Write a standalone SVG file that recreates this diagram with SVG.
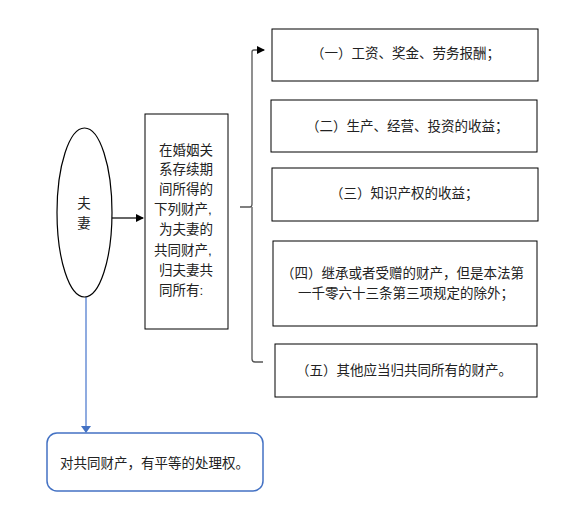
<svg xmlns="http://www.w3.org/2000/svg" width="577" height="532" viewBox="0 0 577 532">
<defs>
<style>
text{font-family:"Liberation Sans","Noto Sans CJK SC",sans-serif;font-size:13.5px;fill:#222}
.box{fill:#fff;stroke:#000;stroke-width:1}
.mid{text-anchor:middle}
</style>
<marker id="ah" markerWidth="8" markerHeight="8" refX="7" refY="4" orient="auto" markerUnits="userSpaceOnUse">
<path d="M0,0 L8,4 L0,8 Z" fill="#000"/>
</marker>
</defs>
<rect width="577" height="532" fill="#fff"/>
<g id="connectors">
<line x1="112" y1="218" x2="143" y2="218" stroke="#000" stroke-width="1.2" marker-end="url(#ah)"/>
<path d="M240,207 H250 Q252,207 252,204 V52 Q252,50 254,50 H264" fill="none" stroke="#555" stroke-width="1.3" marker-end="url(#ah)"/>
<path d="M252,207 V359 Q252,362 255,362 H263" fill="none" stroke="#555" stroke-width="1.3"/>
<line x1="86" y1="297" x2="86" y2="432" stroke="#6a8fd6" stroke-width="1.5"/>
<path d="M81,426 L91,426 L86,433 Z" fill="#4472C4"/>
</g>
<g id="couple">
<ellipse cx="84.5" cy="212.5" rx="27.5" ry="84.5" fill="#fff" stroke="#000" stroke-width="1.2"/>
<text x="84" y="208" class="mid">夫</text>
<text x="84" y="228" class="mid">妻</text>
</g>
<g id="main">
<rect x="145" y="114" width="83" height="215" class="box"/>
<text x="159" y="155">在婚姻关</text>
<text x="159" y="174">系存续期</text>
<text x="159" y="194">间所得的</text>
<text x="154" y="214">下列财产,</text>
<text x="159" y="234">为夫妻的</text>
<text x="154" y="255">共同财产,</text>
<text x="159" y="275">归夫妻共</text>
<text x="159" y="295">同所有:</text>
</g>
<g id="item1">
<rect x="272" y="29" width="266" height="52" class="box"/>
<text x="311" y="58">（一）工资、奖金、劳务报酬；</text>
</g>
<g id="item2">
<rect x="271" y="100" width="266" height="52" class="box"/>
<text x="306" y="131">（二）生产、经营、投资的收益；</text>
</g>
<g id="item3">
<rect x="272" y="168" width="266" height="53" class="box"/>
<text x="330" y="198">（三）知识产权的收益；</text>
</g>
<g id="item4">
<rect x="273" y="241" width="264" height="85" class="box"/>
<text x="281" y="278">（四）继承或者受赠的财产，但是本法第</text>
<text x="298" y="298">一千零六十三条第三项规定的除外；</text>
</g>
<g id="item5">
<rect x="275" y="344" width="262" height="53" class="box"/>
<text x="296" y="375">（五）其他应当归共同所有的财产。</text>
</g>
<g id="result">
<rect x="47" y="433" width="216" height="58" rx="10" fill="#fff" stroke="#4472C4" stroke-width="1.5"/>
<text x="60" y="468">对共同财产，有平等的处理权。</text>
</g>
</svg>
